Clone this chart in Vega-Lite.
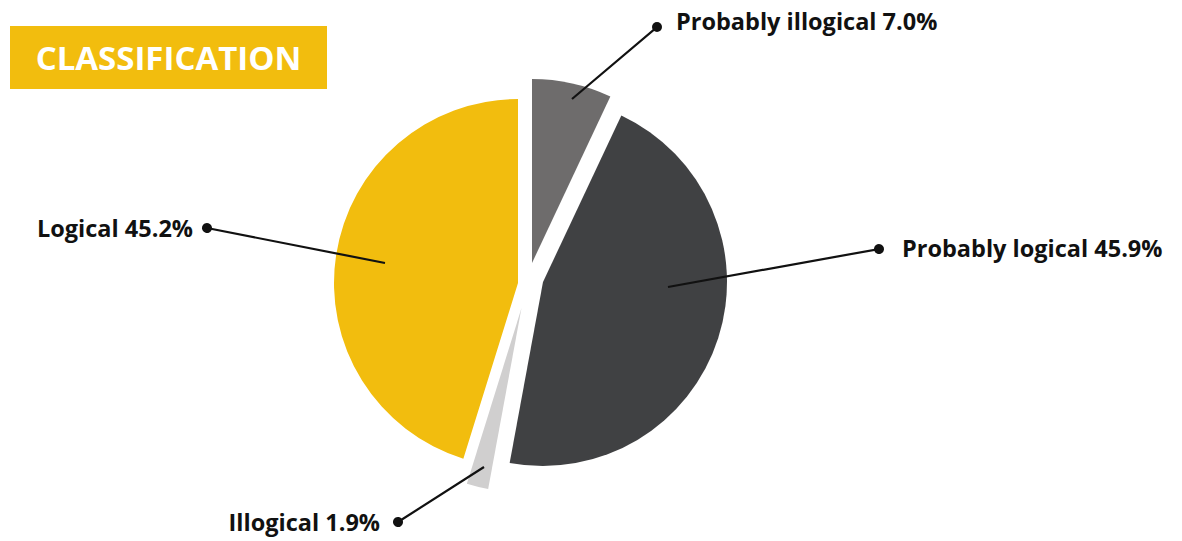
{
  "$schema": "https://vega.github.io/schema/vega-lite/v6.json",
  "background": "white",
  "padding": {"left": 10, "top": 10, "right": 0, "bottom": 12},
  "spacing": 0,
  "bounds": "flush",
  "config": {"view": {"stroke": null}},
  "vconcat": [
    {
      "width": 317,
      "height": 63,
      "view": {"fill": "#F2BD0E", "stroke": null},
      "data": {"values": [{"title": "CLASSIFICATION"}]},
      "mark": {"type": "text", "font": "Open Sans", "fontWeight": "bold", "fontSize": 33, "color": "white", "align": "center", "baseline": "middle", "dy": 2},
      "encoding": {"text": {"field": "title"}}
    },
    {
      "width": 1040,
      "height": 388,
      "data": {"values": [
        {"category": "Probably illogical", "value": 7.0, "label": "Probably illogical 7.0%"},
        {"category": "Probably logical", "value": 45.9, "label": "Probably logical 45.9%"},
        {"category": "Illogical", "value": 1.9, "label": "Illogical 1.9%"},
        {"category": "Logical", "value": 45.2, "label": "Logical 45.2%"}
      ]},
      "transform": [{"stack": "value", "groupby": [], "as": ["v0", "v1"]}],
      "layer": [
        {
          "transform": [{"filter": {"field": "category", "equal": "Probably illogical"}}],
          "mark": {"type": "arc", "outerRadius": 184, "xOffset": 2, "yOffset": -20},
          "encoding": {
            "theta": {"field": "v0", "type": "quantitative", "scale": {"domain": [0, 100]}},
            "theta2": {"field": "v1"},
            "color": {"field": "category", "type": "nominal", "legend": null, "scale": {"domain": ["Probably illogical", "Probably logical", "Illogical", "Logical"], "range": ["#6E6C6C", "#404143", "#D0CFCF", "#F2BD0E"]}}
          }
        },
        {
          "transform": [{"filter": {"field": "category", "equal": "Probably logical"}}],
          "mark": {"type": "arc", "outerRadius": 184, "xOffset": 13, "yOffset": -1},
          "encoding": {
            "theta": {"field": "v0", "type": "quantitative", "scale": {"domain": [0, 100]}},
            "theta2": {"field": "v1"},
            "color": {"field": "category", "type": "nominal", "legend": null, "scale": {"domain": ["Probably illogical", "Probably logical", "Illogical", "Logical"], "range": ["#6E6C6C", "#404143", "#D0CFCF", "#F2BD0E"]}}
          }
        },
        {
          "transform": [{"filter": {"field": "category", "equal": "Illogical"}}],
          "mark": {"type": "arc", "outerRadius": 184, "xOffset": -8.5, "yOffset": 25},
          "encoding": {
            "theta": {"field": "v0", "type": "quantitative", "scale": {"domain": [0, 100]}},
            "theta2": {"field": "v1"},
            "color": {"field": "category", "type": "nominal", "legend": null, "scale": {"domain": ["Probably illogical", "Probably logical", "Illogical", "Logical"], "range": ["#6E6C6C", "#404143", "#D0CFCF", "#F2BD0E"]}}
          }
        },
        {
          "transform": [{"filter": {"field": "category", "equal": "Logical"}}],
          "mark": {"type": "arc", "outerRadius": 184, "xOffset": -12, "yOffset": 0},
          "encoding": {
            "theta": {"field": "v0", "type": "quantitative", "scale": {"domain": [0, 100]}},
            "theta2": {"field": "v1"},
            "color": {"field": "category", "type": "nominal", "legend": null, "scale": {"domain": ["Probably illogical", "Probably logical", "Illogical", "Logical"], "range": ["#6E6C6C", "#404143", "#D0CFCF", "#F2BD0E"]}}
          }
        },
        {
          "transform": [{"filter": {"field": "category", "equal": "Probably illogical"}}],
          "mark": {"type": "arc", "innerRadius": 0, "outerRadius": 111.4, "xOffset": 42, "yOffset": -184, "thetaOffset": 0.868, "theta2Offset": 0.42818, "filled": false, "stroke": "#111111", "strokeWidth": 2.2},
          "encoding": {"theta": {"field": "v0", "type": "quantitative", "scale": {"domain": [0, 100]}}, "theta2": {"field": "v1"}}
        },
        {
          "transform": [{"filter": {"field": "category", "equal": "Probably logical"}}],
          "mark": {"type": "arc", "innerRadius": 0, "outerRadius": 214.4, "xOffset": 138, "yOffset": 4, "thetaOffset": 0.95278, "theta2Offset": -1.93121, "filled": false, "stroke": "#111111", "strokeWidth": 2.2},
          "encoding": {"theta": {"field": "v0", "type": "quantitative", "scale": {"domain": [0, 100]}}, "theta2": {"field": "v1"}}
        },
        {
          "transform": [{"filter": {"field": "category", "equal": "Illogical"}}],
          "mark": {"type": "arc", "innerRadius": 0, "outerRadius": 102.1, "xOffset": -46, "yOffset": 184, "thetaOffset": 0.81959, "theta2Offset": 0.70021, "filled": false, "stroke": "#111111", "strokeWidth": 2.2},
          "encoding": {"theta": {"field": "v0", "type": "quantitative", "scale": {"domain": [0, 100]}}, "theta2": {"field": "v1"}}
        },
        {
          "transform": [{"filter": {"field": "category", "equal": "Logical"}}],
          "mark": {"type": "arc", "innerRadius": 0, "outerRadius": 181.4, "xOffset": -145, "yOffset": -20, "thetaOffset": 1.46331, "theta2Offset": -1.37669, "filled": false, "stroke": "#111111", "strokeWidth": 2.2},
          "encoding": {"theta": {"field": "v0", "type": "quantitative", "scale": {"domain": [0, 100]}}, "theta2": {"field": "v1"}}
        },
        {
          "transform": [{"filter": {"field": "category", "equal": "Probably illogical"}}],
          "mark": {"type": "arc", "outerRadius": 5, "xOffset": 127, "yOffset": -256, "theta2Offset": 6.5, "color": "#111111"},
          "encoding": {"theta": {"field": "v0", "type": "quantitative", "scale": {"domain": [0, 100]}}, "theta2": {"field": "v1"}}
        },
        {
          "transform": [{"filter": {"field": "category", "equal": "Probably logical"}}],
          "mark": {"type": "arc", "outerRadius": 5, "xOffset": 349, "yOffset": -34, "theta2Offset": 6.5, "color": "#111111"},
          "encoding": {"theta": {"field": "v0", "type": "quantitative", "scale": {"domain": [0, 100]}}, "theta2": {"field": "v1"}}
        },
        {
          "transform": [{"filter": {"field": "category", "equal": "Illogical"}}],
          "mark": {"type": "arc", "outerRadius": 5, "xOffset": -132, "yOffset": 239, "theta2Offset": 6.5, "color": "#111111"},
          "encoding": {"theta": {"field": "v0", "type": "quantitative", "scale": {"domain": [0, 100]}}, "theta2": {"field": "v1"}}
        },
        {
          "transform": [{"filter": {"field": "category", "equal": "Logical"}}],
          "mark": {"type": "arc", "outerRadius": 5, "xOffset": -323, "yOffset": -55, "theta2Offset": 6.5, "color": "#111111"},
          "encoding": {"theta": {"field": "v0", "type": "quantitative", "scale": {"domain": [0, 100]}}, "theta2": {"field": "v1"}}
        },
        {
          "transform": [{"filter": {"field": "category", "equal": "Probably illogical"}}],
          "mark": {"type": "text", "font": "Open Sans", "fontWeight": "bold", "fontSize": 23.5, "color": "#111111", "align": "left", "baseline": "middle", "xOffset": 127, "yOffset": -256, "dx": 19, "dy": -4.5},
          "encoding": {"text": {"field": "label"}}
        },
        {
          "transform": [{"filter": {"field": "category", "equal": "Probably logical"}}],
          "mark": {"type": "text", "font": "Open Sans", "fontWeight": "bold", "fontSize": 23.5, "color": "#111111", "align": "left", "baseline": "middle", "xOffset": 349, "yOffset": -34, "dx": 23, "dy": 1},
          "encoding": {"text": {"field": "label"}}
        },
        {
          "transform": [{"filter": {"field": "category", "equal": "Illogical"}}],
          "mark": {"type": "text", "font": "Open Sans", "fontWeight": "bold", "fontSize": 23.5, "color": "#111111", "align": "right", "baseline": "middle", "xOffset": -132, "yOffset": 239, "dx": -18, "dy": 2},
          "encoding": {"text": {"field": "label"}}
        },
        {
          "transform": [{"filter": {"field": "category", "equal": "Logical"}}],
          "mark": {"type": "text", "font": "Open Sans", "fontWeight": "bold", "fontSize": 23.5, "color": "#111111", "align": "right", "baseline": "middle", "xOffset": -323, "yOffset": -55, "dx": -14, "dy": 2},
          "encoding": {"text": {"field": "label"}}
        }
      ]
    }
  ]
}
